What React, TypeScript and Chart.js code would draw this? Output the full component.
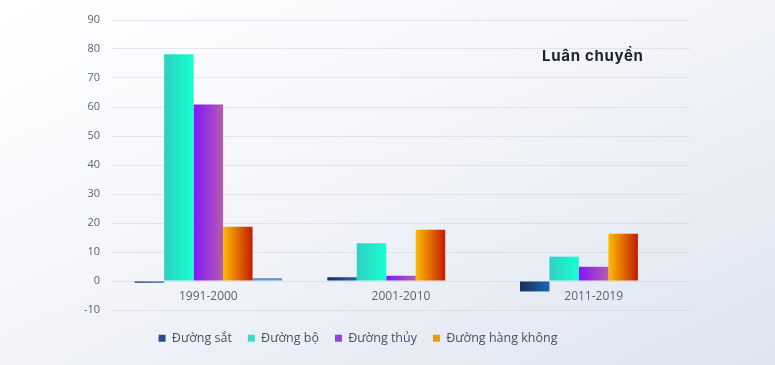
import React, { useEffect, useRef } from 'react';
import { Chart, registerables } from 'chart.js';

Chart.register(...registerables);

const categories = ['1991-2000', '2001-2010', '2011-2019'];
const seriesNames = ['Đường sắt', 'Đường bộ', 'Đường thủy', 'Đường hàng không', 'Khác'];
const duongSat = [-0.6, 1.3, -3.6];
const duongBo = [78.2, 13.0, 8.4];
const duongThuy = [60.9, 1.8, 4.9];
const duongHangKhong = [18.7, 17.7, 16.3];
const khac = [1.0, null, null];
const yMin = -10;
const yMax = 90;
const yStep = 10;
const chartTitle = 'Luân chuyển';

const seriesValues = [duongSat, duongBo, duongThuy, duongHangKhong, khac];
const gradientStops = [
  ['#1b2c5a', '#1868b6'],
  ['#2fd0c4', '#17ffcf'],
  ['#8216ff', '#b65cae'],
  ['#ffbc00', '#c21c00'],
  ['#5d9ad2', '#5d9ad2'],
];
const legendColors = ['#274f8e', '#36dcc8', '#9440dc', '#e69a1a', '#5d9ad2'];

const FONT = "'Open Sans', 'Noto Sans', sans-serif";

const gradientPlugin = {
  id: 'barGradient',
  beforeDatasetsDraw(chart: any) {
    const ctx = chart.ctx;
    chart.data.datasets.forEach((_ds: any, i: number) => {
      const meta = chart.getDatasetMeta(i);
      const stops = gradientStops[i];
      meta.data.forEach((bar: any) => {
        const { x, width } = bar.getProps(['x', 'width'], true);
        if (!isFinite(x) || !isFinite(width)) return;
        const g = ctx.createLinearGradient(x - width / 2, 0, x + width / 2, 0);
        g.addColorStop(0, stops[0]);
        g.addColorStop(1, stops[1]);
        bar.options = Object.assign({}, bar.options, { backgroundColor: g });
      });
    });
  },
};

export default function App() {
  const canvasRef = useRef<HTMLCanvasElement | null>(null);

  useEffect(() => {
    document.body.style.margin = '0';
    const canvas = canvasRef.current;
    if (!canvas) return;
    const chart = new Chart(canvas, {
      type: 'bar',
      data: {
        labels: categories,
        datasets: seriesNames.map((name, i) => ({
          label: name,
          data: seriesValues[i],
          backgroundColor: legendColors[i],
          borderWidth: 0,
          categoryPercentage: 0.765,
          barPercentage: 1,
        })),
      },
      options: {
        responsive: false,
        animation: false,
        layout: { padding: { top: 20, left: 26, right: 0, bottom: 10.5 } },
        plugins: {
          tooltip: { enabled: false },
          legend: {
            position: 'bottom',
            title: { display: true, text: '', font: { size: 2, lineHeight: 1 }, padding: { top: 0, bottom: 4 } },
            labels: {
              boxWidth: 7,
              boxHeight: 7,
              padding: 16,
              color: '#4a5068',
              font: { family: FONT, size: 12.5 },
              filter: (item: any) => item.datasetIndex < 4,
            },
          },
        },
        scales: {
          x: {
            position: { y: 0 } as any,
            grid: { display: false, drawTicks: false },
            border: { display: false },
            ticks: { color: '#5b6275', font: { family: FONT, size: 12 }, padding: 8 },
          },
          y: {
            min: yMin,
            max: yMax,
            afterFit: (scale: any) => {
              scale.width = 86;
            },
            ticks: { stepSize: yStep, color: '#5b6275', font: { family: FONT, size: 11 }, padding: 12 },
            grid: { color: 'rgba(200,206,222,0.45)', drawTicks: false },
            border: { display: false },
          },
        },
      },
      plugins: [gradientPlugin],
    } as any);
    return () => chart.destroy();
  }, []);

  return (
    <div
      style={{
        position: 'fixed',
        left: 0,
        top: 0,
        width: 775,
        height: 365,
        background: 'linear-gradient(155deg, #ffffff 0%, #f3f5f9 45%, #dde4f0 100%)',
        overflow: 'hidden',
      }}
    >
      <canvas ref={canvasRef} width={690} height={365} style={{ position: 'absolute', left: 0, top: 0 }} />
      <div
        style={{
          position: 'absolute',
          left: 542,
          top: 46,
          font: `700 15px Inter, ${FONT}`,
          letterSpacing: '0.7px',
          color: '#1c2035',
          whiteSpace: 'nowrap',
        }}
      >
        {chartTitle}
      </div>
    </div>
  );
}
